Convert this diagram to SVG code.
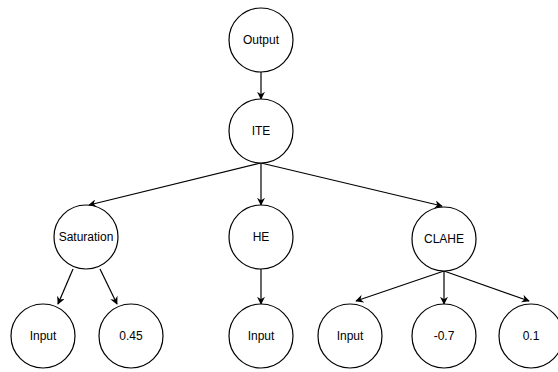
<svg xmlns="http://www.w3.org/2000/svg" width="558" height="372" viewBox="0 0 558 372">
<style>
.n{fill:#fff;stroke:#000;stroke-width:1.2}
.t{font-family:"Liberation Sans",Arial,sans-serif;font-size:12px;fill:#000;text-anchor:middle;dominant-baseline:central}
.e{stroke:#000;stroke-width:1.2;fill:none;marker-end:url(#a)}
</style>
<defs>
<marker id="a" viewBox="0 0 10 10" refX="9" refY="5" markerWidth="8" markerHeight="8" markerUnits="userSpaceOnUse" orient="auto">
<path d="M0,0 L10,5 L0,10 L3,5 Z" fill="#000"/>
</marker>
</defs>
<rect width="558" height="372" fill="#fff"/>
<g id="connectors">
<line class="e" x1="261" y1="72" x2="261" y2="99"/>
<line class="e" x1="261" y1="163" x2="89" y2="205"/>
<line class="e" x1="261" y1="163" x2="261" y2="205"/>
<line class="e" x1="261" y1="163" x2="442" y2="206"/>
<line class="e" x1="73" y1="269" x2="58" y2="304"/>
<line class="e" x1="100" y1="269" x2="117" y2="304"/>
<line class="e" x1="261" y1="269" x2="261" y2="304"/>
<line class="e" x1="444" y1="271" x2="356" y2="301"/>
<line class="e" x1="444" y1="271" x2="444" y2="304"/>
<line class="e" x1="444" y1="271" x2="529" y2="301"/>
</g>
<g id="output"><circle class="n" cx="261" cy="40" r="32"/><text class="t" x="261" y="40">Output</text></g>
<g id="ite"><circle class="n" cx="261" cy="131" r="32"/><text class="t" x="261" y="131">ITE</text></g>
<g id="saturation"><circle class="n" cx="86" cy="237" r="32"/><text class="t" x="86" y="237">Saturation</text></g>
<g id="he"><circle class="n" cx="261" cy="237" r="32"/><text class="t" x="261" y="237">HE</text></g>
<g id="clahe"><circle class="n" cx="444" cy="239" r="32"/><text class="t" x="444" y="239">CLAHE</text></g>
<g id="input1"><circle class="n" cx="43" cy="336" r="32"/><text class="t" x="43" y="336">Input</text></g>
<g id="c045"><circle class="n" cx="131" cy="336" r="32"/><text class="t" x="131" y="336">0.45</text></g>
<g id="input2"><circle class="n" cx="261" cy="336" r="32"/><text class="t" x="261" y="336">Input</text></g>
<g id="input3"><circle class="n" cx="350" cy="336" r="32"/><text class="t" x="350" y="336">Input</text></g>
<g id="cm07"><circle class="n" cx="444" cy="336" r="32"/><text class="t" x="444" y="336">-0.7</text></g>
<g id="c01"><circle class="n" cx="531" cy="336" r="32"/><text class="t" x="531" y="336">0.1</text></g>
</svg>
